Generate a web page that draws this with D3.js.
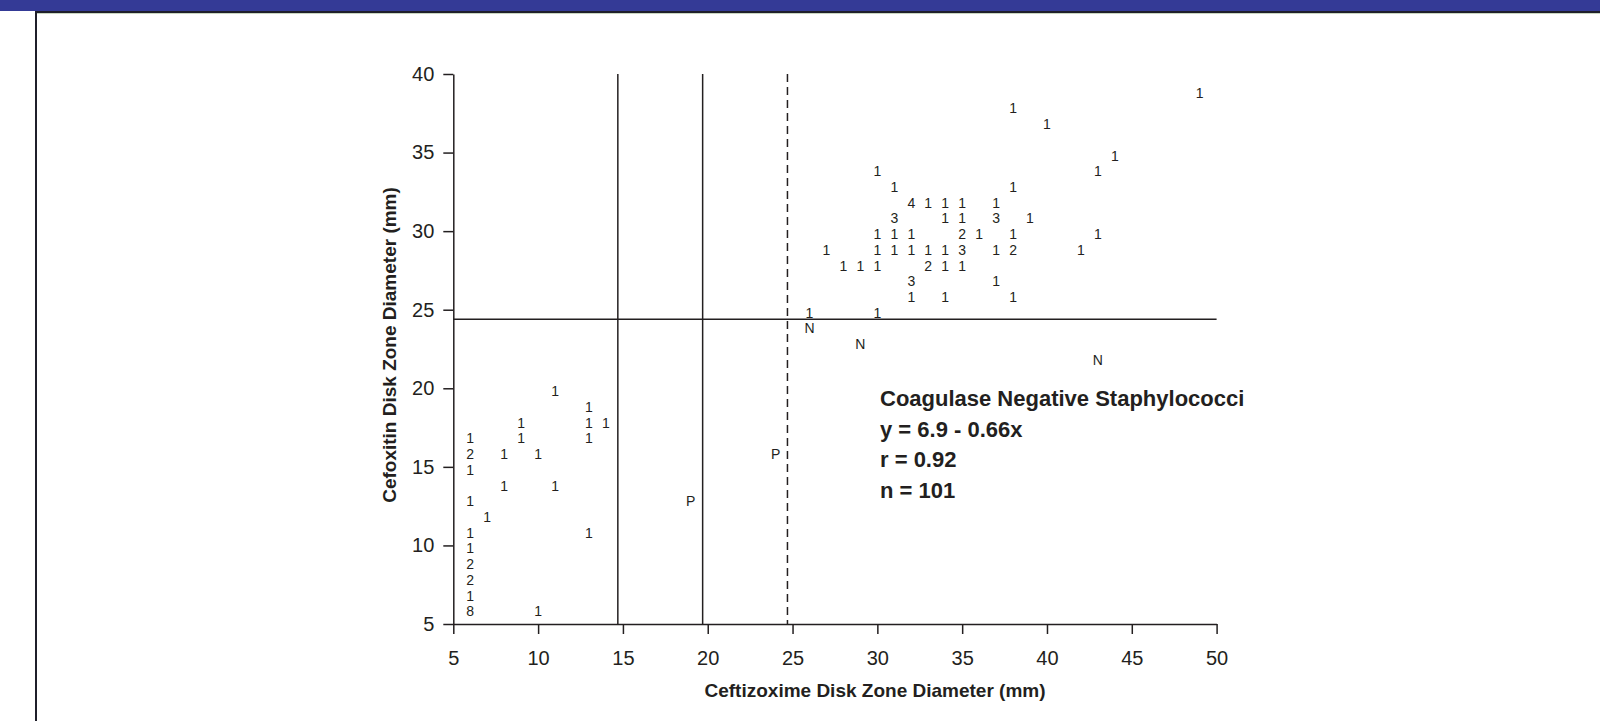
<!DOCTYPE html>
<html>
<head>
<meta charset="utf-8">
<script src="https://cdn.jsdelivr.net/npm/d3@7"></script>
<style>
  html, body { margin: 0; padding: 0; background: #ffffff; }
  svg { display: block; }
  text { font-family: "Liberation Sans", Arial, Helvetica, sans-serif; fill: #231f20; }
</style>
</head>
<body>
<svg id="chart" width="1600" height="721"></svg>
<script>
// ---- Data ----
// Each point: x = ceftizoxime zone (mm), y = cefoxitin zone (mm), label = count or letter
const pointX = [
  11, 13, 9, 13, 14, 6, 9, 13, 6, 8, 10, 6, 8, 11, 6, 7, 6, 13, 6, 6, 6, 6, 6, 10,
  49, 38, 40, 44, 43, 30, 31, 38,
  32, 33, 34, 35, 37,
  31, 34, 35, 37, 39,
  30, 31, 32, 35, 36, 38, 43,
  27, 30, 31, 32, 33, 34, 35, 37, 38, 42,
  28, 29, 30, 33, 34, 35,
  32, 37,
  32, 34, 38,
  26, 30,
  26, 29, 43, 24, 19
];
const pointY = [
  20, 19, 18, 18, 18, 17, 17, 17, 16, 16, 16, 15, 14, 14, 13, 12, 11, 11, 10, 9, 8, 7, 6, 6,
  39, 38, 37, 35, 34, 34, 33, 33,
  32, 32, 32, 32, 32,
  31, 31, 31, 31, 31,
  30, 30, 30, 30, 30, 30, 30,
  29, 29, 29, 29, 29, 29, 29, 29, 29, 29,
  28, 28, 28, 28, 28, 28,
  27, 27,
  26, 26, 26,
  25, 25,
  24, 23, 22, 16, 13
];
const pointLabel = [
  "1", "1", "1", "1", "1", "1", "1", "1", "2", "1", "1", "1", "1", "1", "1", "1", "1", "1", "1", "2", "2", "1", "8", "1",
  "1", "1", "1", "1", "1", "1", "1", "1",
  "4", "1", "1", "1", "1",
  "3", "1", "1", "3", "1",
  "1", "1", "1", "2", "1", "1", "1",
  "1", "1", "1", "1", "1", "1", "3", "1", "2", "1",
  "1", "1", "1", "2", "1", "1",
  "3", "1",
  "1", "1", "1",
  "1", "1",
  "N", "N", "N", "P", "P"
];

// Breakpoint lines
const solidVerticals = [14.7, 19.7];
const dashedVerticals = [24.7];
const horizontalLines = [24.4];

// Axes
const xTicks = [5, 10, 15, 20, 25, 30, 35, 40, 45, 50];
const yTicks = [5, 10, 15, 20, 25, 30, 35, 40];
const xDomain = [5, 50];
const yDomain = [5, 40];
const xTitle = "Ceftizoxime Disk Zone Diameter (mm)";
const yTitle = "Cefoxitin Disk Zone Diameter (mm)";
const annotationLines = ["Coagulase Negative Staphylococci", "y = 6.9 - 0.66x", "r = 0.92", "n = 101"];

// ---- Drawing ----
const svg = d3.select("#chart");
const ink = "#231f20";

// Frame: blue header bar, dark rule, left border
svg.append("rect").attr("x", 0).attr("y", 0).attr("width", 1600).attr("height", 11).attr("fill", "#343a96");
svg.append("rect").attr("x", 35).attr("y", 11).attr("width", 1565).attr("height", 2).attr("fill", "#1f1f2a");
svg.append("rect").attr("x", 35).attr("y", 13).attr("width", 1565).attr("height", 1).attr("fill", "#c9d6c0");
svg.append("rect").attr("x", 35).attr("y", 11).attr("width", 2).attr("height", 710).attr("fill", "#1f1f2a");

const x = d3.scaleLinear().domain(xDomain).range([453.3, 1216.6]);
const y = d3.scaleLinear().domain(yDomain).range([624, 74]);

// Axes
const xAxis = d3.axisBottom(x).tickValues(xTicks).tickSize(10).tickSizeOuter(0).tickPadding(17);
const yAxis = d3.axisLeft(y).tickValues(yTicks).tickSize(10).tickSizeOuter(0).tickPadding(9);

const gx = svg.append("g").attr("transform", `translate(0,${y(5)})`).call(xAxis);
const gy = svg.append("g").attr("transform", `translate(${x(5)},0)`).call(yAxis);
[gx, gy].forEach(g => {
  g.selectAll("path, line").attr("stroke", ink).attr("stroke-width", 1.5);
  g.selectAll("text").attr("font-size", 20).attr("fill", ink)
    .attr("font-family", '"Liberation Sans", Arial, sans-serif');
});

// Reference lines
svg.append("g").selectAll("line.sv").data(solidVerticals).join("line")
  .attr("x1", d => x(d)).attr("x2", d => x(d))
  .attr("y1", y(40)).attr("y2", y(5))
  .attr("stroke", ink).attr("stroke-width", 1.5);
svg.append("g").selectAll("line.dv").data(dashedVerticals).join("line")
  .attr("x1", d => x(d)).attr("x2", d => x(d))
  .attr("y1", y(40)).attr("y2", y(5))
  .attr("stroke", ink).attr("stroke-width", 1.5)
  .attr("stroke-dasharray", "8,5");
svg.append("g").selectAll("line.h").data(horizontalLines).join("line")
  .attr("x1", x(5)).attr("x2", x(50))
  .attr("y1", d => y(d)).attr("y2", d => y(d))
  .attr("stroke", ink).attr("stroke-width", 1.5);

// Point labels
const pts = pointX.map((v, i) => ({ x: v, y: pointY[i], label: pointLabel[i] }));
svg.append("g").selectAll("text").data(pts).join("text")
  .attr("x", d => x(d.x))
  .attr("y", d => y(d.y) + 8)
  .attr("text-anchor", "middle")
  .attr("font-size", 14)
  .text(d => d.label);

// Axis titles
svg.append("text")
  .attr("x", 875).attr("y", 697)
  .attr("text-anchor", "middle")
  .attr("font-size", 19).attr("font-weight", "bold")
  .text(xTitle);
svg.append("text")
  .attr("transform", "translate(396,345) rotate(-90)")
  .attr("text-anchor", "middle")
  .attr("font-size", 19).attr("font-weight", "bold")
  .text(yTitle);

// Annotation
const annY = [406, 437, 467, 498];
svg.append("g").selectAll("text").data(annotationLines).join("text")
  .attr("x", 880).attr("y", (d, i) => annY[i])
  .attr("font-size", 22).attr("font-weight", "bold")
  .text(d => d);
</script>
</body>
</html>
